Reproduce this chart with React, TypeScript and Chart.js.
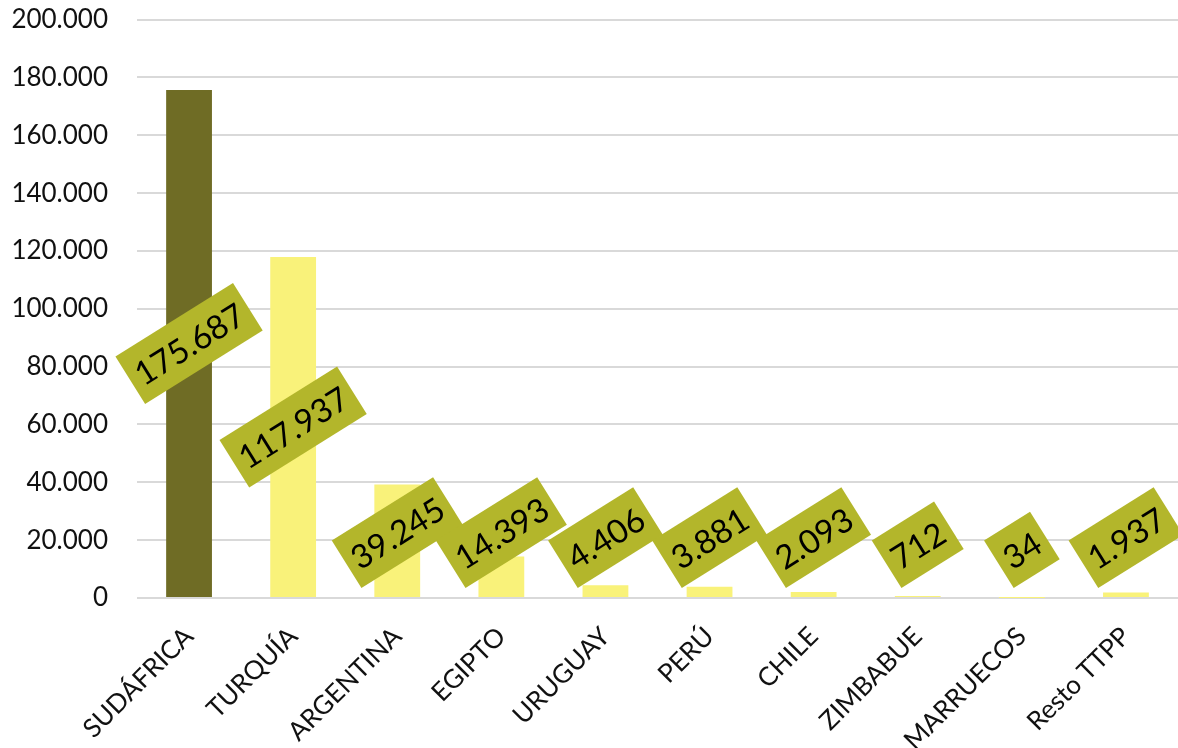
import React, { useEffect, useRef } from "react";
import { Chart, registerables } from "chart.js";

Chart.register(...registerables);

const categories = ["SUDÁFRICA", "TURQUÍA", "ARGENTINA", "EGIPTO", "URUGUAY", "PERÚ", "CHILE", "ZIMBABUE", "MARRUECOS", "Resto TTPP"];
const values = [175687, 117937, 39245, 14393, 4406, 3881, 2093, 712, 34, 1937];
const barColors = ["#6f6c25", "#f9f27a", "#f9f27a", "#f9f27a", "#f9f27a", "#f9f27a", "#f9f27a", "#f9f27a", "#f9f27a", "#f9f27a"];

const FONT = "Lato, 'Noto Sans', sans-serif";
const SHIFT = 25;

function fmt(v: number): string {
  return Math.round(v).toString().replace(/\B(?=(\d{3})+(?!\d))/g, ".");
}

const labelPlugin = {
  id: "rotLabels",
  afterDatasetsDraw(chart: any) {
    const ctx = chart.ctx;
    const meta = chart.getDatasetMeta(0);
    const area = chart.chartArea;
    const ang = (-32 * Math.PI) / 180;
    ctx.save();
    ctx.font = `33px ${FONT}`;
    meta.data.forEach((bar: any, i: number) => {
      const text = fmt(values[i]);
      const tw = ctx.measureText(text).width;
      const w = tw + 16;
      const h = 56;
      const hb = (w * Math.abs(Math.sin(ang)) + h * Math.cos(ang)) / 2;
      let cy = (bar.y + bar.base) / 2;
      if (cy > area.bottom - 10 - hb) cy = area.bottom - 10 - hb;
      const cx = bar.x;
      ctx.save();
      ctx.translate(cx, cy);
      ctx.rotate(ang);
      ctx.fillStyle = "#b3b62b";
      ctx.fillRect(-w / 2, -h / 2, w, h);
      ctx.fillStyle = "#000000";
      ctx.textAlign = "center";
      ctx.textBaseline = "middle";
      ctx.fillText(text, 0, 2);
      ctx.restore();
    });
    ctx.restore();
  },
};

export default function App() {
  const ref = useRef<HTMLCanvasElement>(null);
  useEffect(() => {
    document.body.style.margin = "0";
    const chart = new Chart(ref.current!, {
      type: "bar",
      data: {
        labels: categories,
        datasets: [
          {
            data: values,
            backgroundColor: barColors,
            barPercentage: 0.44,
            categoryPercentage: 1,
          },
        ],
      },
      options: {
        animation: false,
        responsive: false,
        layout: { padding: { top: 0, right: 0, left: 0, bottom: 0 } },
        plugins: { legend: { display: false }, tooltip: { enabled: false } },
        scales: {
          x: {
            grid: { display: false, drawTicks: false },
            border: { display: false },
            ticks: {
              color: "#111",
              font: { family: FONT, size: 26 },
              maxRotation: 45,
              minRotation: 45,
              padding: 23,
              autoSkip: false,
            },
            afterFit: (s: any) => {
              s.height = 150;
            },
          },
          y: {
            min: 0,
            max: 200000,
            grid: { color: "#d9d9d9", lineWidth: 2, drawTicks: false },
            border: { display: false },
            ticks: {
              stepSize: 20000,
              color: "#111",
              font: { family: FONT, size: 26 },
              padding: 29,
              callback: (v: any) => fmt(Number(v)),
            },
            afterFit: (s: any) => {
              s.width = 137;
            },
          },
        },
      },
      plugins: [labelPlugin],
    });
    return () => chart.destroy();
  }, []);
  return (
    <div style={{ position: "absolute", left: 0, top: 0, width: 1178, height: 748, overflow: "hidden" }}>
      <canvas
        ref={ref}
        width={1178}
        height={748 + SHIFT}
        style={{ position: "absolute", left: 0, top: -SHIFT, width: 1178, height: 748 + SHIFT }}
      />
    </div>
  );
}
